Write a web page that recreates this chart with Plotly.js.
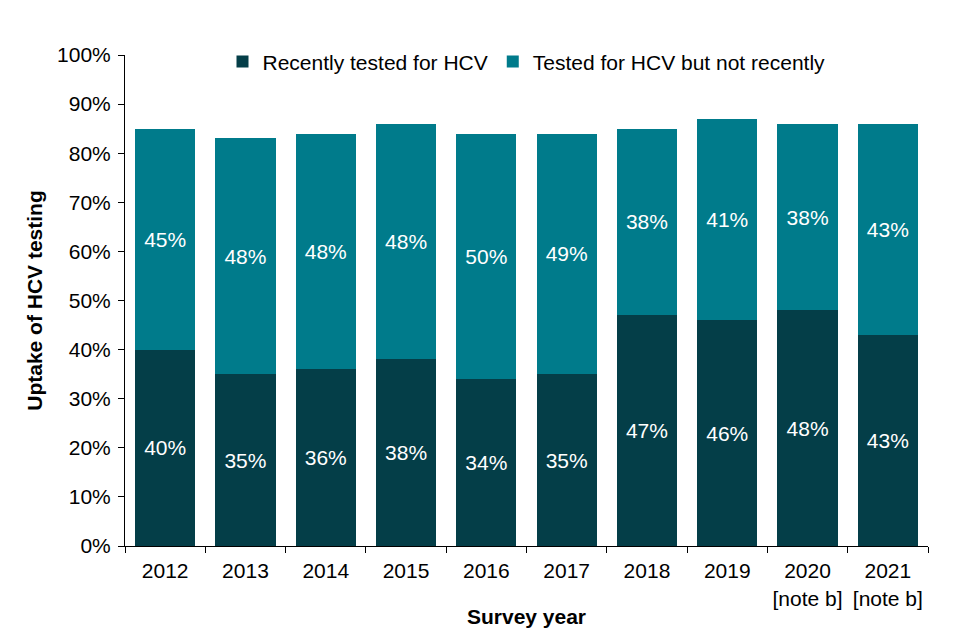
<!DOCTYPE html>
<html>
<head>
<meta charset="utf-8">
<script src="https://cdn.plot.ly/plotly-3.0.1.min.js"></script>
<style>body{margin:0;padding:0;background:#fff;}#chart{width:960px;height:640px;}</style>
</head>
<body>
<div id="chart"></div>
<script>
const categories = ["2012","2013","2014","2015","2016","2017","2018","2019","2020<br>[note b]","2021<br>[note b]"];
const recentlyTested = [40,35,36,38,34,35,47,46,48,43];
const notRecently = [45,48,48,48,50,49,38,41,38,43];
const seriesNames = ["Recently tested for HCV","Tested for HCV but not recently"];
const yTickVals = [0,10,20,30,40,50,60,70,80,90,100];
const yTickText = yTickVals.map(v => v + "%");

const font = "Liberation Sans, Arial, sans-serif";
const common = {
  type: "bar",
  x: categories,
  textposition: "inside",
  insidetextanchor: "middle",
  textangle: 0,
  constraintext: "none",
  textfont: {color: "#ffffff", size: 21, family: font},
  width: 0.75,
  hoverinfo: "skip"
};
const traces = [
  Object.assign({}, common, {y: recentlyTested, text: recentlyTested.map(v => v + "%"), name: seriesNames[0], marker: {color: "#043e48"}}),
  Object.assign({}, common, {y: notRecently, text: notRecently.map(v => v + "%"), name: seriesNames[1], marker: {color: "#007b8b"}})
];
const layout = {
  width: 960, height: 640,
  margin: {l: 125, r: 32, t: 55, b: 94},
  barmode: "stack",
  paper_bgcolor: "#fff", plot_bgcolor: "#fff",
  font: {family: font, size: 21, color: "#000"},
  showlegend: true,
  legend: {orientation: "h", x: 0.5, xanchor: "center", y: 1.028, yanchor: "top", font: {size: 21}, traceorder: "normal", itemwidth: 30, bgcolor: "rgba(0,0,0,0)"},
  xaxis: {
    type: "category",
    showline: true, linecolor: "#000", linewidth: 1,
    ticks: "outside", ticklen: 6, tickcolor: "#000", tickson: "boundaries",
    ticklabelstandoff: 6,
    showgrid: false, zeroline: false,
    tickfont: {size: 21},
    title: {text: "<b>Survey year</b>", font: {size: 21}, standoff: 0}
  },
  yaxis: {
    range: [0, 100], tickmode: "array", tickvals: yTickVals, ticktext: yTickText,
    showline: true, linecolor: "#000", linewidth: 1,
    ticks: "outside", ticklen: 6, tickcolor: "#000",
    ticklabelstandoff: 3,
    showgrid: false, zeroline: false,
    tickfont: {size: 21},
    title: {text: "<b>Uptake of HCV testing</b>", font: {size: 21}, standoff: 8}
  }
};
Plotly.newPlot("chart", traces, layout, {displayModeBar: false, staticPlot: true});
</script>
</body>
</html>
